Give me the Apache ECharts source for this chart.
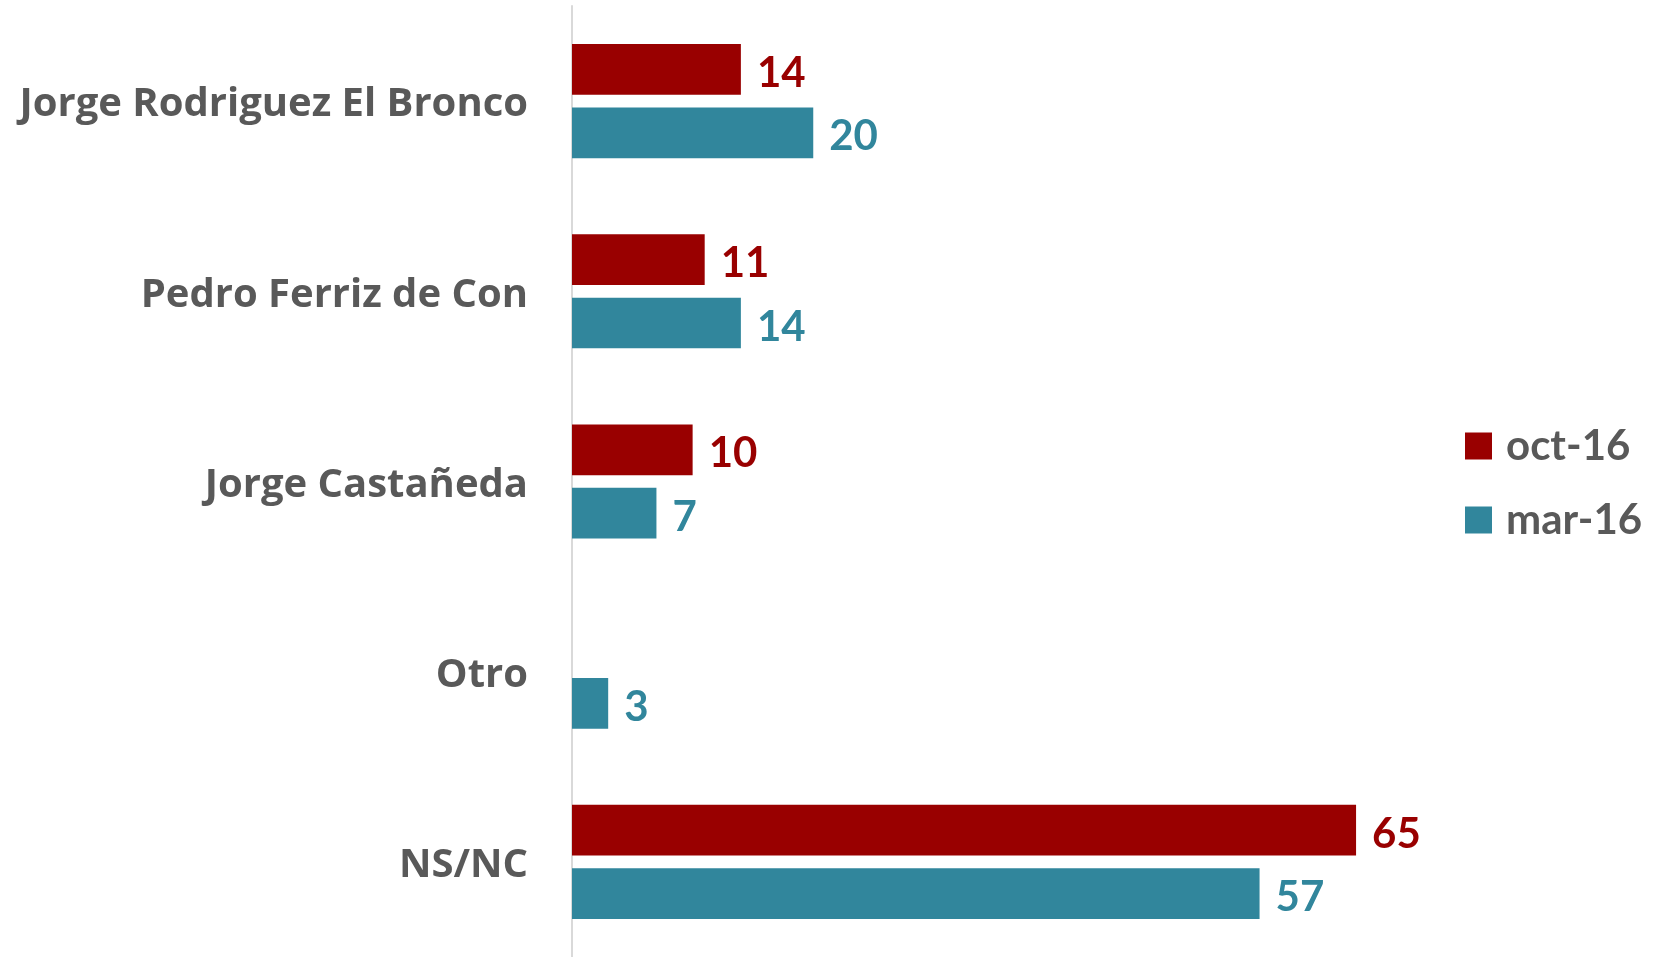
<!DOCTYPE html>
<html>
<head>
<meta charset="utf-8">
<script src="https://cdn.jsdelivr.net/npm/echarts@6/dist/echarts.min.js"></script>
<style>
  html, body { margin: 0; padding: 0; background: #fff; }
  #main { width: 1663px; height: 957px; }
</style>
</head>
<body>
<div id="main"></div>
<script>
var categories = ['Jorge Rodriguez El Bronco', 'Pedro Ferriz de Con', 'Jorge Castañeda', 'Otro', 'NS/NC'];
var seriesNames = ['oct-16', 'mar-16'];
var oct16 = [14, 11, 10, null, 65];
var mar16 = [20, 14, 7, 3, 57];

var red = '#990000';
var teal = '#31869c';
var grey = '#595959';
var font = 'Lato';

var chart = echarts.init(document.getElementById('main'));

function barLabel(color) {
  return {
    show: true,
    position: 'right',
    distance: 16,
    offset: [0, 4],
    color: color,
    fontFamily: font,
    fontWeight: 'bold',
    fontSize: 42
  };
}

var option = {
  animation: false,
  color: [red, teal],
  legend: {
    orient: 'vertical',
    left: 1460,
    top: 420,
    icon: 'rect',
    itemWidth: 27,
    itemHeight: 27,
    itemGap: 32,
    data: seriesNames,
    textStyle: {
      color: grey,
      fontFamily: font,
      fontWeight: 'bold',
      fontSize: 42,
      padding: [0, 0, 0, 9]
    }
  },
  grid: {
    left: 572,
    right: 126,
    top: 6,
    bottom: 0
  },
  xAxis: {
    type: 'value',
    min: 0,
    max: 80,
    show: false,
    splitLine: { show: false }
  },
  yAxis: {
    type: 'category',
    inverse: true,
    data: categories,
    axisTick: { show: false },
    axisLine: {
      show: true,
      lineStyle: { color: '#d9d9d9', width: 2 }
    },
    axisLabel: {
      margin: 44,
      formatter: '{n|{value}}',
      rich: {
        n: {
          color: grey,
          fontFamily: 'Open Sans',
          fontWeight: 'bold',
          fontSize: 40,
          padding: [8, 0, 0, 0]
        }
      }
    }
  },
  series: [
    {
      name: 'oct-16',
      type: 'bar',
      data: oct16,
      barGap: '25%',
      barCategoryGap: '40%',
      label: barLabel(red)
    },
    {
      name: 'mar-16',
      type: 'bar',
      data: mar16,
      barGap: '25%',
      barCategoryGap: '40%',
      label: barLabel(teal)
    }
  ]
};

chart.setOption(option);
</script>
</body>
</html>
